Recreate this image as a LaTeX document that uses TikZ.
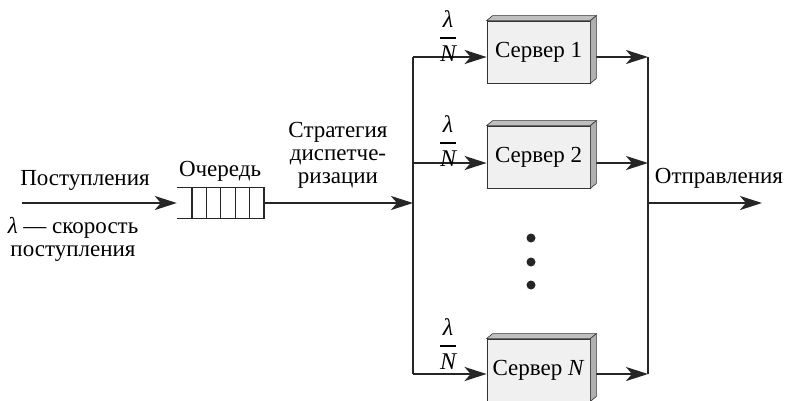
\documentclass[tikz,border=0pt]{standalone}
\usepackage{fontspec}
\usepackage{amsmath}
\setmainfont{Liberation Serif}
\usetikzlibrary{arrows.meta,calc}
\newcommand{\lamN}{$\displaystyle\genfrac{}{}{1.6pt}{0}{\hbox{\itshape λ}}{\hbox{\itshape N}}$}
\begin{document}
\begin{tikzpicture}[x=1pt,y=-1pt,
  line/.style={draw=black!85, line width=2.4pt},
  arr/.style={line, -{Stealth[length=22pt,width=14pt,inset=6pt]}},
  srv/.style={draw=black!80, line width=0.8pt, fill=gray!12, minimum width=103pt, minimum height=62pt, inner sep=0pt, font=\fontsize{23}{26}\selectfont},
  lbl/.style={font=\fontsize{23}{23}\selectfont, inner sep=0pt, align=center},
  fr/.style={font=\fontsize{24}{26}\selectfont, inner sep=0pt},
  topface/.style={fill=gray!50, draw=black!80, line width=0.6pt},
  sideface/.style={fill=gray!62, draw=black!80, line width=0.6pt},
  qline/.style={draw=black!85, line width=1.2pt},
  dotn/.style={circle, fill=black!85, minimum size=9pt, inner sep=0pt}]
\useasboundingbox (0,0) rectangle (786,400);
% servers
\node[srv] (s1) at (538.5,52) {Сервер 1};
\node[srv] (s2) at (538.5,157) {Сервер 2};
\node[srv] (sN) at (538.5,370) {Сервер \textit{N}};
% queue
\node[minimum width=88pt, minimum height=30pt, inner sep=0pt] (q) at (221,203) {};
\draw[qline] (q.north west) -- (q.north east);
\draw[qline] (q.south west) -- (q.south east);
\foreach \x in {192,206.4,220.8,235.2,249.6,264} \draw[qline] (\x,188) -- (\x,218);
% coordinates
\coordinate (in) at (22,203);
\coordinate (bm) at (413,203);
\coordinate (b1) at (413,57);
\coordinate (b2) at (413,163);
\coordinate (bN) at (413,374);
\coordinate (o1) at (648,57);
\coordinate (o2) at (648,163);
\coordinate (oN) at (648,374);
\coordinate (om) at (648,203);
\coordinate (out) at (762,203);
% connectors
\draw[arr] (in) -- (q.west);
\draw[arr] (q.east) -- (bm);
\draw[line] (b1) -- (bN);
\draw[arr] (b1) -- (b1 -| s1.west);
\draw[arr] (b2) -- (b2 -| s2.west);
\draw[arr] (bN) -- (bN -| sN.west);
\draw[arr] (s1.east |- o1) -- (o1);
\draw[arr] (s2.east |- o2) -- (o2);
\draw[arr] (sN.east |- oN) -- (oN);
\draw[line] (o1) -- (oN);
\draw[arr] (om) -- (out);
% 3D faces
\foreach \n in {s1,s2,sN}{
  \draw[topface] (\n.north west) -- ++(6,-5) -- ($(\n.north east)+(6,-5)$) -- (\n.north east) -- cycle;
  \draw[sideface] (\n.north east) -- ++(6,-5) -- ($(\n.south east)+(6,-5)$) -- (\n.south east) -- cycle;
}
% labels
\node[lbl] (tin) at (85,180) {Поступления};
\node[lbl] (tlam) at (73,239) {\textit{λ} — скорость\\поступления};
\node[lbl] (tq) at (220,171) {Очередь};
\node[lbl] (tstr) at (338,155) {Стратегия\\диспетче-\\ризации};
\node[lbl] (tout) at (719,178) {Отправления};
\node[fr] (f1) at (448,36) {\lamN};
\node[fr] (f2) at (448,141) {\lamN};
\node[fr] (f3) at (448,344) {\lamN};
% dots
\node[dotn] (d1) at (531,238) {};
\node[dotn] (d2) at (531,262) {};
\node[dotn] (d3) at (531,285) {};
\end{tikzpicture}
\end{document}
